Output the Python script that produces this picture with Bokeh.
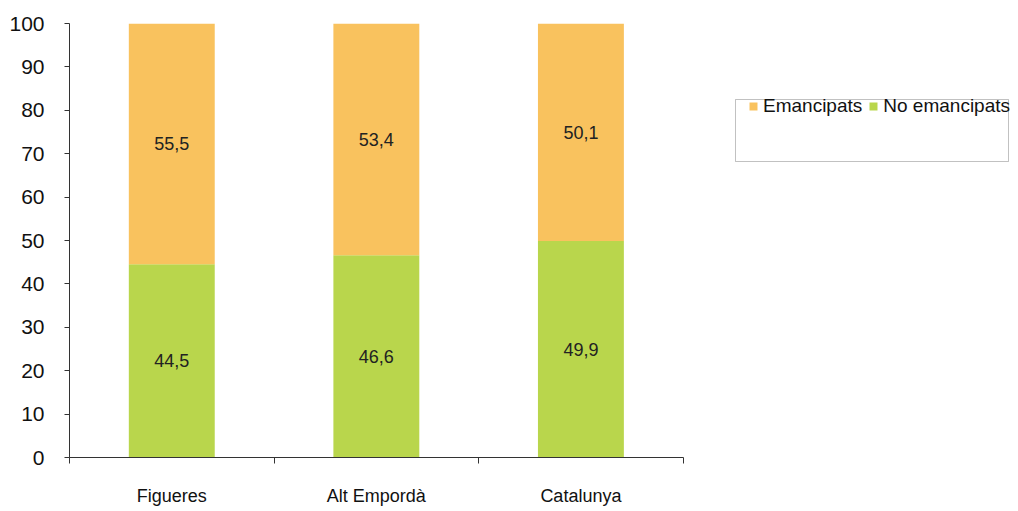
from bokeh.plotting import figure
from bokeh.models import (Range1d, FixedTicker, Legend, LegendItem, BoxAnnotation,
                          ColumnDataSource, LabelSet)
from bokeh.core.properties import value
from bokeh.embed import file_html
from bokeh.resources import INLINE

categories = ["Figueres", "Alt Empordà", "Catalunya"]
no_emancipats = [44.5, 46.6, 49.9]
emancipats = [55.5, 53.4, 50.1]
y_ticks = [0, 10, 20, 30, 40, 50, 60, 70, 80, 90, 100]

ORANGE = "#F9C25E"
GREEN = "#B9D64C"
AXIS = "#333333"
FONT = "Liberation Sans"

xpos = [i + 0.5 for i in range(len(categories))]
bounds = [float(i) for i in range(len(categories) + 1)]

src = ColumnDataSource(dict(
    x=xpos,
    no=no_emancipats,
    em=emancipats,
    top_em=[a + b for a, b in zip(no_emancipats, emancipats)],
    no_mid=[a / 2 for a in no_emancipats],
    em_mid=[a + b / 2 for a, b in zip(no_emancipats, emancipats)],
    no_lbl=[f"{v:.1f}".replace(".", ",") for v in no_emancipats],
    em_lbl=[f"{v:.1f}".replace(".", ",") for v in emancipats],
))

p = figure(width=1010, height=508, output_backend="svg", toolbar_location=None,
           x_range=Range1d(0, 4.6), y_range=Range1d(0, 100),
           min_border_left=69, min_border_right=0, min_border_top=23, min_border_bottom=46)
p.outline_line_color = None
p.xgrid.visible = False
p.ygrid.visible = False

r_no = p.vbar(x="x", width=0.42, bottom=0, top="no", source=src,
              fill_color=GREEN, line_color=None)
r_em = p.vbar(x="x", width=0.42, bottom="no", top="top_em", source=src,
              fill_color=ORANGE, line_color=None)

for col, lbl in (("no_mid", "no_lbl"), ("em_mid", "em_lbl")):
    p.add_layout(LabelSet(x="x", y=col, text=lbl, source=src,
                          text_align="center", text_baseline="middle",
                          text_font=value(FONT), text_font_size=value("18px"),
                          text_color="#222222"))

# y axis
ya = p.yaxis[0]
ya.ticker = FixedTicker(ticks=y_ticks)
ya.axis_line_color = AXIS
ya.major_tick_line_color = AXIS
ya.major_tick_out = 5
ya.major_tick_in = 0
ya.minor_tick_line_color = None
ya.major_label_text_font = FONT
ya.major_label_text_font_size = "21px"
ya.major_label_text_color = "#111111"
ya.major_label_standoff = 20

# x axis
xa = p.xaxis[0]
xa.ticker = FixedTicker(ticks=xpos, minor_ticks=bounds)
xa.bounds = (bounds[0], bounds[-1])
xa.major_label_overrides = {x: c for x, c in zip(xpos, categories)}
xa.axis_line_color = AXIS
xa.major_tick_line_color = None
xa.major_tick_out = 6
xa.major_tick_in = 0
xa.minor_tick_line_color = AXIS
xa.minor_tick_out = 6
xa.minor_tick_in = 0
xa.major_label_text_font = FONT
xa.major_label_text_font_size = "18px"
xa.major_label_text_color = "#111111"
xa.major_label_standoff = 22

# legend frame
p.add_layout(BoxAnnotation(left=666, right=939, top=358, bottom=296,
                           left_units="screen", right_units="screen",
                           top_units="screen", bottom_units="screen",
                           fill_alpha=0, line_color=AXIS, line_width=1))

legend = Legend(items=[LegendItem(label="Emancipats", renderers=[r_em]),
                       LegendItem(label="No emancipats", renderers=[r_no])],
                orientation="horizontal", location=(679, 340),
                border_line_color=None, background_fill_alpha=0,
                padding=0, margin=0, spacing=6,
                glyph_width=10, glyph_height=10, label_standoff=5,
                label_height=20,
                label_text_font=FONT, label_text_font_size="19px",
                label_text_color="#111111")
p.add_layout(legend, "center")

open("out.html", "w").write(file_html(p, INLINE))
